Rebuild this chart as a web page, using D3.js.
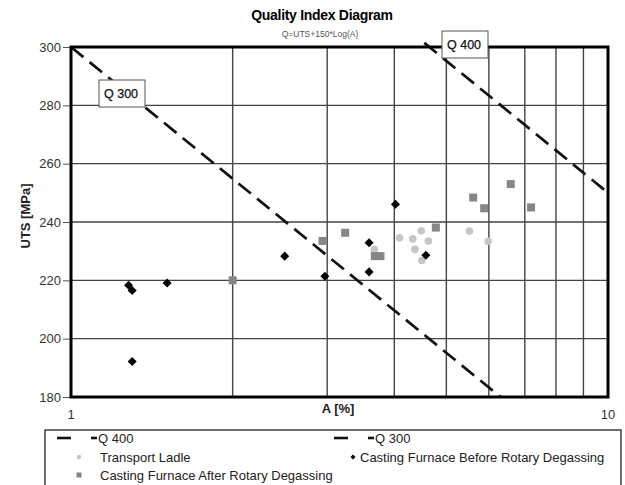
<!DOCTYPE html>
<html>
<head>
<meta charset="utf-8">
<script src="https://cdn.jsdelivr.net/npm/d3@7"></script>
<style>
  body { margin: 0; background: #fff; }
  svg { font-family: "Liberation Sans", Arial, sans-serif; }
</style>
</head>
<body>
<div class="chart"></div>
<script>
// Transport Ladle (light circles)
const ladleA   = [3.67, 4.09, 4.33, 4.49, 4.63, 4.37, 4.50, 5.52, 5.98];
const ladleUTS = [230.6, 234.6, 234.2, 237.0, 233.5, 230.6, 226.8, 236.9, 233.4];
// Casting Furnace Before Rotary Degassing (black diamonds)
const beforeA   = [1.28, 1.30, 1.51, 1.30, 2.50, 2.97, 4.02, 3.59, 3.59, 4.58];
const beforeUTS = [218.3, 216.5, 219.1, 192.2, 228.3, 221.4, 246.1, 232.9, 222.9, 228.6];
// Casting Furnace After Rotary Degassing (grey squares)
const afterA   = [2.0, 2.94, 3.24, 3.68, 3.77, 4.78, 5.61, 5.88, 6.59, 7.19];
const afterUTS = [220, 233.5, 236.3, 228.3, 228.3, 238.1, 248.4, 244.7, 253, 245];
// Q lines, Q = UTS + 150*log(A): end points inside the plot
const q400A   = [4.55, 10];
const q400UTS = [301.4, 250];
const q300A   = [1, 6.31];
const q300UTS = [300, 180];
// ticks
const yTicks = [180, 200, 220, 240, 260, 280, 300];
const xGrid = [2, 3, 4, 5, 6, 7, 8, 9];
const xTickLabels = [1, 10];

const W = 625, H = 485;
const svg = d3.select('.chart').append('svg').attr('width', W).attr('height', H);

const x = d3.scaleLog().domain([1, 10]).range([71, 608]);
const y = d3.scaleLinear().domain([180, 300]).range([397, 47]);

// title
svg.append('text').attr('x', 322).attr('y', 20).attr('text-anchor', 'middle')
  .style('font-weight', 'bold').style('font-size', '14px').style('letter-spacing', '-0.3px')
  .text('Quality Index Diagram');
svg.append('text').attr('x', 320).attr('y', 37).attr('text-anchor', 'middle')
  .style('font-size', '8.5px').style('fill', '#555')
  .text('Q=UTS+150*Log(A)');

// grid
const grid = svg.append('g').attr('class', 'grid');
grid.selectAll('.vg').data(xGrid).enter().append('line')
  .attr('x1', d => x(d)).attr('x2', d => x(d))
  .attr('y1', y(300)).attr('y2', y(180))
  .style('stroke', '#444').style('stroke-width', 1.4);
grid.selectAll('.hg').data(yTicks.slice(1, -1)).enter().append('line')
  .attr('x1', x(1)).attr('x2', x(10))
  .attr('y1', d => y(d)).attr('y2', d => y(d))
  .style('stroke', '#444').style('stroke-width', 1.4);

// y axis
const yAxis = d3.axisLeft(y).tickValues(yTicks).tickSizeInner(8).tickSizeOuter(0).tickPadding(2);
const yAxisDraw = svg.append('g').attr('transform', `translate(${x(1)},0)`).call(yAxis);
yAxisDraw.select('.domain').remove();
yAxisDraw.selectAll('line').style('stroke', '#555');
yAxisDraw.selectAll('text').style('font-size', '13px').style('fill', '#333')
  .style('font-family', '"Liberation Sans", Arial, sans-serif');

// x tick labels
svg.selectAll('.xl').data(xTickLabels).enter().append('text')
  .attr('x', d => x(d)).attr('y', 419).attr('text-anchor', 'middle')
  .style('font-size', '13px').style('fill', '#333').text(d => d);

// axis titles
svg.append('text').attr('x', 338).attr('y', 413).attr('text-anchor', 'middle')
  .style('font-weight', 'bold').style('font-size', '13px').style('fill', '#222').text('A [%]');
svg.append('text').attr('transform', 'translate(30,216) rotate(-90)').attr('text-anchor', 'middle')
  .style('font-weight', 'bold').style('font-size', '13px').style('fill', '#222').text('UTS [MPa]');

// Q lines
const qLine = d3.line().x(d => x(d[0])).y(d => y(d[1]));
const qData = [d3.zip(q400A, q400UTS), d3.zip(q300A, q300UTS)];
svg.selectAll('.qline').data(qData).enter().append('path')
  .attr('d', qLine)
  .style('fill', 'none').style('stroke', '#111').style('stroke-width', 2.7)
  .style('stroke-dasharray', '16,8');

// frame
svg.append('rect').attr('x', x(1)).attr('y', y(300))
  .attr('width', x(10) - x(1)).attr('height', y(180) - y(300))
  .style('fill', 'none').style('stroke', '#000').style('stroke-width', 3);

// markers
const ladle = d3.zip(ladleA, ladleUTS);
const before = d3.zip(beforeA, beforeUTS);
const after = d3.zip(afterA, afterUTS);

svg.selectAll('.ladle').data(ladle).enter().append('circle')
  .attr('cx', d => x(d[0])).attr('cy', d => y(d[1])).attr('r', 3.8)
  .style('fill', '#c6c6c6');
svg.selectAll('.after').data(after).enter().append('rect')
  .attr('x', d => x(d[0]) - 4).attr('y', d => y(d[1]) - 4)
  .attr('width', 8).attr('height', 8)
  .style('fill', '#868686');
const diamond = d3.symbol().type(d3.symbolDiamond2).size(52);
svg.selectAll('.before').data(before).enter().append('path')
  .attr('transform', d => `translate(${x(d[0])},${y(d[1])})`)
  .attr('d', diamond).style('fill', '#000');

// Q labels
const qLabels = [
  { text: 'Q 400', x: 442, y: 31 },
  { text: 'Q 300', x: 99, y: 80 }
];
const ql = svg.selectAll('.qlabel').data(qLabels).enter().append('g')
  .attr('transform', d => `translate(${d.x},${d.y})`);
ql.append('rect').attr('width', 46).attr('height', 27)
  .style('fill', '#fff').style('stroke', '#555').style('stroke-width', 1);
ql.append('text').attr('x', 5).attr('y', 18)
  .style('font-size', '12.5px').style('fill', '#111').style('stroke', '#111').style('stroke-width', 0.25)
  .text(d => d.text);

// legend
const legend = svg.append('g').attr('class', 'legend');
legend.append('rect').attr('x', 45).attr('y', 430).attr('width', 576).attr('height', 70)
  .style('fill', '#fff').style('stroke', '#222').style('stroke-width', 1.3);

function lineSample(x0, yy, label) {
  legend.append('line').attr('x1', x0).attr('x2', x0 + 14).attr('y1', yy).attr('y2', yy)
    .style('stroke', '#111').style('stroke-width', 2.6);
  legend.append('line').attr('x1', x0 + 34).attr('x2', x0 + 40).attr('y1', yy).attr('y2', yy)
    .style('stroke', '#111').style('stroke-width', 2.6);
  legend.append('text').attr('x', x0 + 41).attr('y', yy + 4.5)
    .style('font-size', '13px').style('fill', '#222').text(label);
}
lineSample(57, 438, 'Q 400');
lineSample(334, 438, 'Q 300');

legend.append('circle').attr('cx', 79).attr('cy', 457).attr('r', 2.2).style('fill', '#c6c6c6');
legend.append('text').attr('x', 100).attr('y', 461.5)
  .style('font-size', '13px').style('fill', '#222').text('Transport Ladle');

legend.append('path').attr('transform', 'translate(353,457)')
  .attr('d', d3.symbol().type(d3.symbolDiamond2).size(16)).style('fill', '#000');
legend.append('text').attr('x', 360).attr('y', 461.5)
  .style('font-size', '13px').style('fill', '#222').text('Casting Furnace Before Rotary Degassing');

legend.append('rect').attr('x', 76.5).attr('y', 472.5).attr('width', 5).attr('height', 5).style('fill', '#868686');
legend.append('text').attr('x', 100).attr('y', 479.5)
  .style('font-size', '13px').style('fill', '#222').text('Casting Furnace After Rotary Degassing');
</script>
</body>
</html>
